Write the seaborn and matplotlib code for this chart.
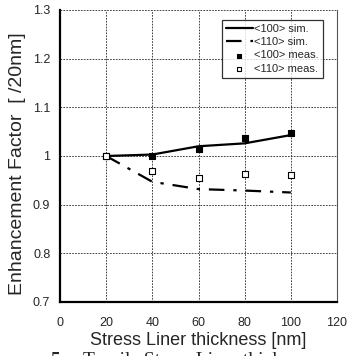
import numpy as np
import pandas as pd
import matplotlib
matplotlib.use("Agg")
import matplotlib.pyplot as plt
import seaborn as sns

thickness = [20, 40, 60, 80, 100]
sim_100 = [1.000, 1.003, 1.020, 1.026, 1.043]
sim_110 = [1.000, 0.947, 0.932, 0.929, 0.925]
meas_100 = [1.000, 0.999, 1.015, 1.036, 1.047]
meas_110 = [1.000, 0.969, 0.954, 0.962, 0.960]

sns.set_style("white")
plt.rcParams['font.family'] = ['Liberation Sans', 'DejaVu Sans']

df = pd.DataFrame({"t": thickness, "sim100": sim_100, "sim110": sim_110,
                   "meas100": meas_100, "meas110": meas_110})

fig = plt.figure(figsize=(3.47, 3.56), dpi=100)
ax = fig.add_axes([60 / 347, 54 / 356, 277 / 347, 292 / 356])

sns.lineplot(data=df, x="t", y="sim100", ax=ax, color="black", lw=1.6,
             label="<100> sim.")
sns.lineplot(data=df, x="t", y="sim110", ax=ax, color="black", lw=1.6,
             linestyle=(0, (7, 4, 1.5, 4)), label="<110> sim.")
sns.scatterplot(data=df, x="t", y="meas100", ax=ax, marker="s", s=20,
                color="black", edgecolor="black", linewidth=0.8,
                label="<100> meas.", zorder=5)
sns.scatterplot(data=df, x="t", y="meas110", ax=ax, marker="s", s=20,
                facecolor="white", edgecolor="black", linewidth=0.8,
                label="<110> meas.", zorder=5)

ax.set_xlim(0, 120)
ax.set_ylim(0.7, 1.3)
ax.set_xticks([0, 20, 40, 60, 80, 100, 120])
ax.set_yticks([0.7, 0.8, 0.9, 1.0, 1.1, 1.2, 1.3])
ax.set_yticklabels(["0.7", "0.8", "0.9", "1", "1.1", "1.2", "1.3"])
ax.tick_params(length=0, labelsize=9)
ax.tick_params(axis="x", pad=11)
ax.tick_params(axis="y", pad=7)
ax.grid(True, color="#222222", linestyle=(0, (2, 1.5)), linewidth=0.6)

for s in ["left", "bottom"]:
    ax.spines[s].set_linewidth(1.6)
    ax.spines[s].set_color("black")
ax.spines["top"].set_visible(False)
ax.spines["right"].set_linewidth(0.8)
ax.spines["right"].set_color("#555555")

ax.set_xlabel("Stress Liner thickness [nm]", fontsize=13, labelpad=2)
ax.set_ylabel("Enhancement Factor  [ /20nm]", fontsize=14)
ax.yaxis.set_label_coords(-0.122, 0.475)

leg = ax.legend(loc="upper right", bbox_to_anchor=(0.949, 0.966), fontsize=8,
                frameon=True, fancybox=False, edgecolor="black",
                handlelength=2.4, handletextpad=0.15, borderpad=0.35,
                labelspacing=0.3, borderaxespad=0, markerscale=0.8)
leg.get_frame().set_linewidth(0.9)

serif = ["Liberation Serif", "DejaVu Serif"]
fig.text(50 / 347, 1 - 352 / 356, "5.", fontsize=14, fontweight="bold",
         family=serif, ha="left", va="top")
fig.text(83 / 347, 1 - 352 / 356, "Tensile Stress Liner thickness", fontsize=14,
         family=serif, ha="left", va="top")

fig.savefig("out.png", dpi=100)
